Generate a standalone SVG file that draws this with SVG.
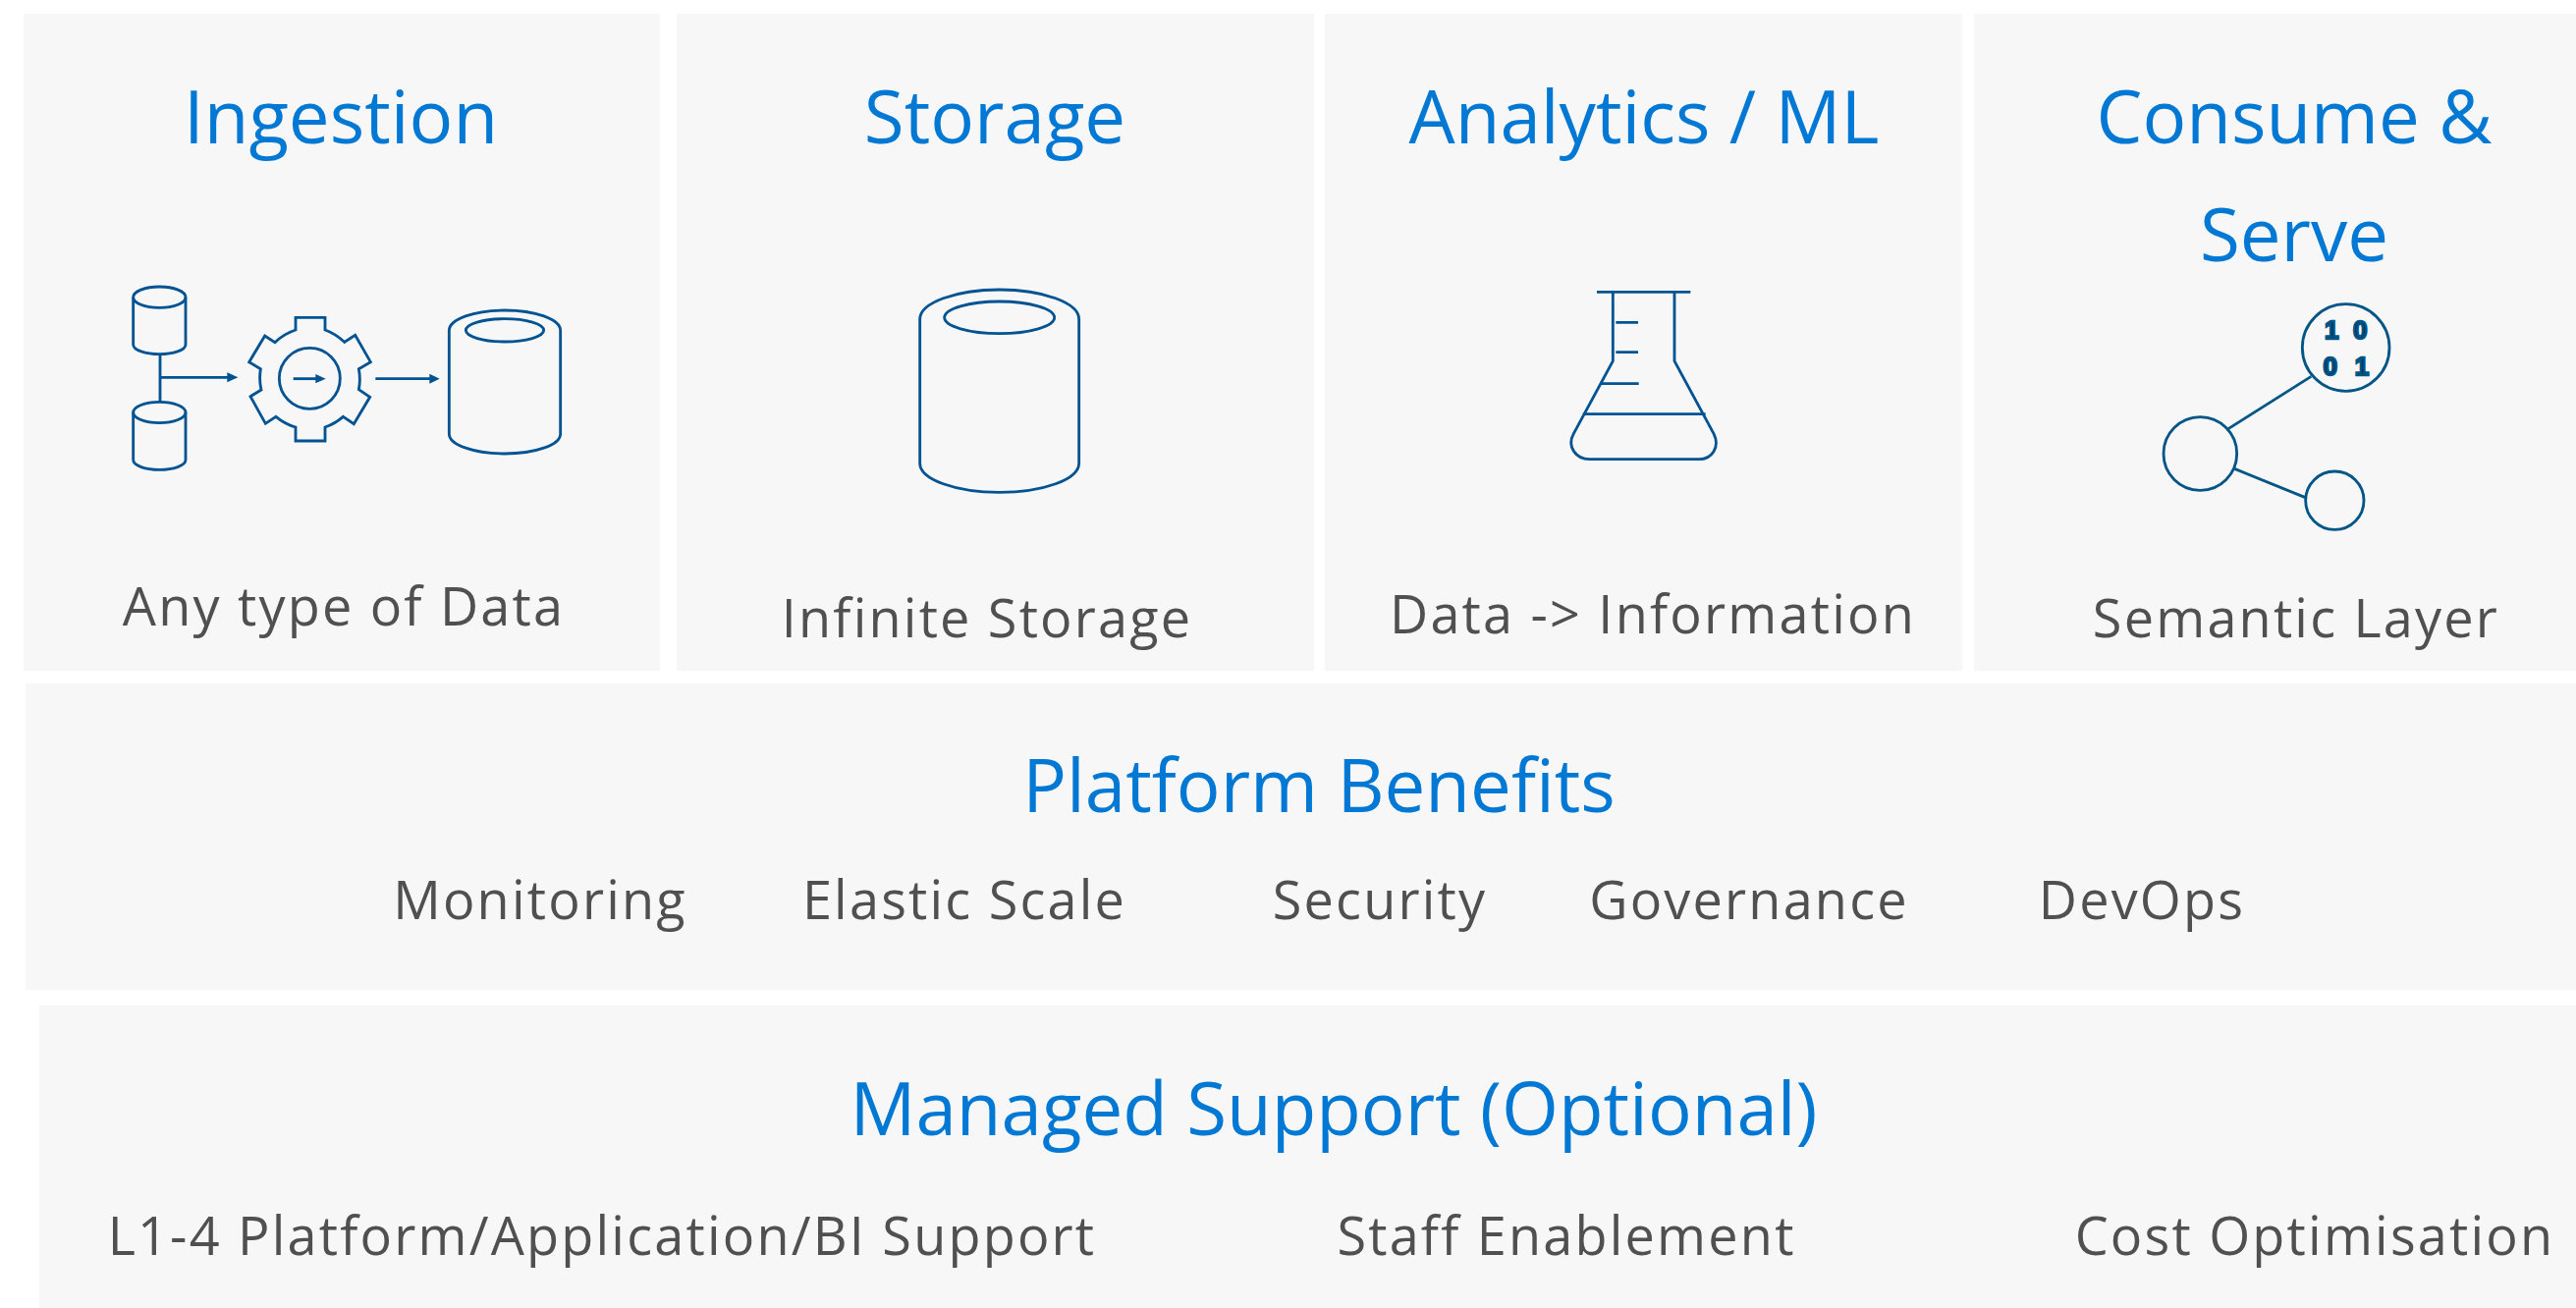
<svg xmlns="http://www.w3.org/2000/svg" width="2623" height="1332" viewBox="0 0 2623 1332">
<style>
.panel{fill:#f7f7f7}
.t{font-family:"Open Sans",sans-serif;font-size:74.5px;fill:#0078d4;text-anchor:middle}
.s{font-family:"Open Sans",sans-serif;font-size:54px;fill:#505050;letter-spacing:2.2px;text-anchor:middle}
.i{fill:none;stroke:#005392;stroke-width:8.5}
.h{fill:#005392}
.d{font-family:"Liberation Sans",sans-serif;font-weight:bold;font-size:78px;fill:#002f57;stroke:#005587;stroke-width:7;text-anchor:middle}
</style>
<rect width="2623" height="1332" fill="#fff"/>
<g id="ingestion">
<rect class="panel" x="24" y="14" width="648" height="669"/>
<text class="t" x="347" y="146">Ingestion</text>
<text class="s" x="350" y="637">Any type of Data</text>
<g transform="translate(100 270) scale(.33333)">
<ellipse class="i" cx="187" cy="98" rx="80" ry="32"/>
<path class="i" d="M107 98V242C107 260 145 272 187 272S267 260 267 242V98"/>
<ellipse class="i" cx="187" cy="450" rx="80" ry="32"/>
<path class="i" d="M107 450V595C107 613 145 625 187 625S267 613 267 595V450"/>
<path class="i" d="M189 272V418M189 343H400"/>
<path class="h" d="M394 328L427 343L394 358Z"/>
<path class="i" d="M603 160H693V198A165 165 0 0 1 752 235L785 214L832 296L796 317A165 165 0 0 1 796 380L830 403L781 485L748 463A165 165 0 0 1 693 495V537H603V495A165 165 0 0 1 543 463L511 484L465 401L498 381A165 165 0 0 1 496 317L461 296L509 216L540 236A165 165 0 0 1 603 198Z"/>
<circle class="i" cx="646" cy="346" r="93"/>
<path class="i" d="M596 347H670"/>
<path class="h" d="M664 333L695 347L664 361Z"/>
<path class="i" d="M847 347H1018"/>
<path class="h" d="M1012 332L1043 347L1012 362Z"/>
<path class="i" d="M1072 200C1072 165 1150 138 1242 138S1412 165 1412 200V515C1412 550 1334 576 1242 576S1072 550 1072 515Z"/>
<ellipse class="i" cx="1242" cy="199" rx="119" ry="35"/>
</g>
</g>
<g id="storage">
<rect class="panel" x="689" y="14" width="649" height="669"/>
<text class="t" x="1013" y="146">Storage</text>
<text class="s" x="1005" y="649">Infinite Storage</text>
<g transform="translate(900 270) scale(.33333)">
<path class="i" d="M110 165C110 115 220 75 353 75S596 115 596 165V605C596 655 486 694 353 694S110 655 110 605Z"/>
<ellipse class="i" cx="353" cy="160" rx="168" ry="49"/>
</g>
</g>
<g id="analytics">
<rect class="panel" x="1349" y="14" width="649" height="669"/>
<text class="t" x="1674" y="146">Analytics / ML</text>
<text class="s" x="1683" y="645">Data -&gt; Information</text>
<g transform="translate(1550 270) scale(.33333)">
<path class="i" d="M228 82H514M277 82V293L157 515C135 555 165 593 205 593H540C580 593 605 555 585 515L465 293V82M286 175H354M286 266H354M240 362H356M185 455H560"/>
</g>
</g>
<g id="consume">
<rect class="panel" x="2010" y="14" width="613" height="669"/>
<text class="t" x="2336" y="146">Consume &amp;</text>
<text class="t" x="2336" y="266">Serve</text>
<text class="s" x="2338" y="649">Semantic Layer</text>
<g transform="translate(2170 290) scale(.33333)">
<g class="i" style="stroke:#005587">
<circle cx="656" cy="192" r="133"/>
<circle cx="211" cy="516" r="112"/>
<circle cx="622" cy="659" r="89"/>
<path d="M297 440L550 280M316 562L532 650"/>
</g>
<text class="d" x="613" y="165">1</text>
<text class="d" x="700" y="165">0</text>
<text class="d" x="608" y="277">0</text>
<text class="d" x="705" y="277">1</text>
</g>
</g>
<g id="platform-benefits">
<rect class="panel" x="26" y="696" width="2597" height="312"/>
<text class="t" x="1343" y="827">Platform Benefits</text>
<text class="s" x="550" y="936">Monitoring</text>
<text class="s" x="982" y="936">Elastic Scale</text>
<text class="s" x="1405" y="936">Security</text>
<text class="s" x="1781" y="936">Governance</text>
<text class="s" x="2181" y="936">DevOps</text>
</g>
<g id="managed-support">
<rect class="panel" x="40" y="1024" width="2583" height="308"/>
<text class="t" x="1358" y="1156">Managed Support (Optional)</text>
<text class="s" x="613" y="1278">L1-4 Platform/Application/BI Support</text>
<text class="s" x="1595" y="1278">Staff Enablement</text>
<text class="s" x="2357" y="1278">Cost Optimisation</text>
</g>
<g id="connectors"/>
</svg>
